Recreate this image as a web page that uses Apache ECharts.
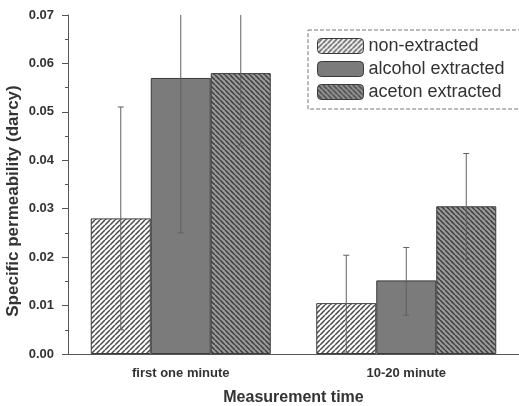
<!DOCTYPE html>
<html>
<head>
<meta charset="utf-8">
<script src="https://cdn.jsdelivr.net/npm/echarts@6/dist/echarts.min.js"></script>
<style>html,body{margin:0;padding:0;background:#fff;}#c{width:519px;height:406px;}</style>
</head>
<body>
<div id="c"></div>
<script>
const categories = ['first one minute', '10-20 minute'];
const seriesNames = ['non-extracted', 'alcohol extracted', 'aceton extracted'];
const nonExtracted = [0.028, 0.0105];
const alcoholExtracted = [0.057, 0.0152];
const acetonExtracted = [0.058, 0.0305];
const nonErr = [[0.005, 0.051], [0.0004, 0.0204]];
const alcoholErr = [[0.025, 0.089], [0.008, 0.022]];
const acetonErr = [[0.043, 0.073], [0.0195, 0.0414]];
const yTicks = [0, 0.01, 0.02, 0.03, 0.04, 0.05, 0.06, 0.07];
const yAxisTitle = 'Specific permeability (darcy)';
const xAxisTitle = 'Measurement time';

function makePattern(bg, fg, dir, size, lw) {
  const c = document.createElement('canvas');
  c.width = size; c.height = size;
  const g = c.getContext('2d');
  g.fillStyle = bg; g.fillRect(0, 0, size, size);
  g.strokeStyle = fg; g.lineWidth = lw;
  g.beginPath();
  for (let k = -1; k <= 1; k++) {
    if (dir > 0) { g.moveTo(k * size, size); g.lineTo(k * size + size, 0); }
    else { g.moveTo(k * size, 0); g.lineTo(k * size + size, size); }
  }
  g.stroke();
  return { image: c, repeat: 'repeat' };
}
const fills = [
  makePattern('#ffffff', '#4a4a4a', 1, 5, 1.5),
  '#7b7b7b',
  makePattern('#9a9a9a', '#3e3e3e', -1, 5, 1.5)
];
const values = [nonExtracted, alcoholExtracted, acetonExtracted];
const errs = [nonErr, alcoholErr, acetonErr];
const yMax = yTicks[yTicks.length - 1];
const BW = 60;

const chart = echarts.init(document.getElementById('c'));
const barSeries = seriesNames.map((n, i) => ({
  name: n, type: 'bar', xAxisIndex: 0,
  data: values[i], barWidth: BW, barGap: '0%',
  itemStyle: { color: fills[i], borderColor: '#3a3a3a', borderWidth: 1 },
  emphasis: { disabled: true }, z: 2
}));
const errSeries = seriesNames.map((n, i) => ({
  type: 'custom', xAxisIndex: 0, z: 5, silent: true,
  data: errs[i].map((e, j) => [j, e[0], e[1]]),
  renderItem: function (params, api) {
    const x = api.value(0), lo = api.value(1), hi = api.value(2);
    const clipped = hi > yMax;
    const p1 = api.coord([x, lo]);
    const p2 = api.coord([x, Math.min(hi, yMax)]);
    const cx = p1[0] + (i - 1) * BW;
    const st = { stroke: '#606060', lineWidth: 1 };
    const kids = [
      { type: 'line', shape: { x1: cx, y1: p1[1], x2: cx, y2: p2[1] }, style: st },
      { type: 'line', shape: { x1: cx - 3, y1: p1[1], x2: cx + 3, y2: p1[1] }, style: st }
    ];
    if (!clipped) kids.push({ type: 'line', shape: { x1: cx - 3, y1: p2[1], x2: cx + 3, y2: p2[1] }, style: st });
    return { type: 'group', children: kids };
  }
}));

chart.setOption({
  animation: false,
  backgroundColor: '#fff',
  grid: { left: 68, right: 0, top: 15, bottom: 52, outerBoundsMode: 'none', containLabel: false },
  legend: {
    data: seriesNames, orient: 'vertical', left: 308, top: 30,
    itemWidth: 46, itemHeight: 15, itemGap: 5,
    padding: [7, 40, 8, 9],
    borderColor: '#777', borderWidth: 1, borderType: 'dashed',
    textStyle: { fontFamily: 'Liberation Sans, Arial', fontSize: 18, color: '#333' },
    itemStyle: { borderColor: '#3a3a3a', borderWidth: 1 }
  },
  graphic: [{
    type: 'text', x: 13, y: 201, rotation: Math.PI / 2, silent: true,
    style: { text: yAxisTitle, fontFamily: 'Liberation Sans, Arial', fontWeight: 'bold', fontSize: 17,
      fill: '#333', align: 'center', verticalAlign: 'middle' }
  }],
  xAxis: [{
    type: 'category', data: categories,
    name: xAxisTitle, nameLocation: 'middle', nameGap: 36,
    nameTextStyle: { fontFamily: 'Liberation Sans, Arial', fontWeight: 'bold', fontSize: 16, color: '#333' },
    axisLine: { lineStyle: { color: '#555', width: 1 } },
    axisTick: { alignWithLabel: true, length: 4, lineStyle: { color: '#555' } },
    axisLabel: { fontFamily: 'Liberation Sans, Arial', fontWeight: 'bold', fontSize: 13, color: '#333', margin: 13 }
  }, {
    type: 'category', data: categories, position: 'bottom',
    axisLine: { show: false },
    axisTick: { alignWithLabel: false, length: 2, lineStyle: { color: '#555' } },
    axisLabel: { show: false }
  }],
  yAxis: {
    type: 'value', min: 0, max: yMax, interval: 0.01,
    axisLine: { show: true, lineStyle: { color: '#555', width: 1 } },
    axisTick: { show: true, length: 6, lineStyle: { color: '#555' } },
    minorTick: { show: true, splitNumber: 2, length: 3, lineStyle: { color: '#555' } },
    splitLine: { show: false },
    axisLabel: { fontFamily: 'Liberation Sans, Arial', fontWeight: 'bold', fontSize: 13, color: '#333', margin: 14,
      formatter: v => v.toFixed(2) }
  },
  series: barSeries.concat(errSeries)
});
</script>
</body>
</html>
